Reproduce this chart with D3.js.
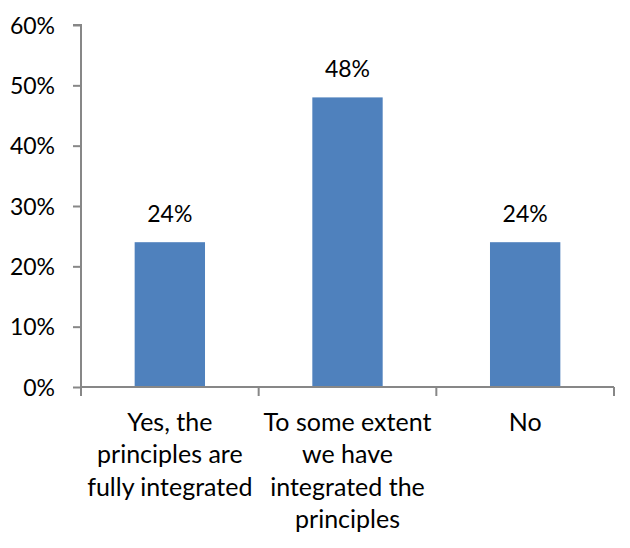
<!DOCTYPE html>
<html>
<head>
<meta charset="utf-8">
<script src="https://cdn.jsdelivr.net/npm/d3@7"></script>
<style>
  html, body { margin: 0; padding: 0; background: #fff; }
  svg { display: block; }
  text { font-family: Lato, "Open Sans", sans-serif; fill: #000; }
</style>
</head>
<body>
<script>
// Survey answers and the share of respondents for each
const categories = [
  ["Yes, the", "principles are", "fully integrated"],
  ["To some extent", "we have", "integrated the", "principles"],
  ["No"]
];
const values = [0.24, 0.48, 0.24];
const yTicks = [0, 0.1, 0.2, 0.3, 0.4, 0.5, 0.6];

const W = 630, H = 548;
const plot = { left: 81, right: 614, top: 25, bottom: 387 };

const svg = d3.select("body").append("svg")
  .attr("width", W).attr("height", H);

const x = d3.scaleBand()
  .domain(d3.range(values.length))
  .range([plot.left, plot.right])
  .paddingInner(0.604)
  .paddingOuter(0.302);

const y = d3.scaleLinear().domain([0, 0.6]).range([plot.bottom, plot.top]);

const axisColor = "#878787";
const fmt = d3.format(".0%");

// Bars
svg.append("g").selectAll("rect")
  .data(values)
  .join("rect")
  .attr("x", (d, i) => x(i))
  .attr("width", x.bandwidth())
  .attr("y", d => y(d))
  .attr("height", d => y(0) - y(d))
  .attr("fill", "#4F81BD");

// Value labels above the bars
svg.append("g").selectAll("text")
  .data(values)
  .join("text")
  .attr("x", (d, i) => x(i) + x.bandwidth() / 2)
  .attr("y", d => y(d) - 20)
  .attr("text-anchor", "middle")
  .style("font-size", "23px")
  .text(d => fmt(d));

// Y axis
const yAxis = svg.append("g")
  .attr("transform", `translate(${plot.left},0)`)
  .call(d3.axisLeft(y).tickValues(yTicks).tickFormat(fmt).tickSize(8).tickPadding(18));
yAxis.select(".domain").attr("stroke", axisColor).attr("stroke-width", 2)
  .attr("d", `M-8,${plot.top}H0V${plot.bottom + 9}`);
yAxis.selectAll(".tick line").attr("stroke", axisColor).attr("stroke-width", 2);
yAxis.selectAll(".tick text")
  .style("font-size", "23px")
  .style("font-family", "Lato, sans-serif")
  .attr("fill", "#000")
  .attr("dy", "0.36em");

// X axis: baseline with category separators
const step = x.step();
const sepX = d3.range(values.length + 1).map(i => plot.left + i * step);
const xAxis = svg.append("g");
xAxis.append("line")
  .attr("x1", plot.left).attr("x2", plot.right)
  .attr("y1", plot.bottom).attr("y2", plot.bottom)
  .attr("stroke", axisColor).attr("stroke-width", 2);
xAxis.selectAll(".sep")
  .data(sepX.slice(1))
  .join("line")
  .attr("class", "sep")
  .attr("x1", d => d).attr("x2", d => d)
  .attr("y1", plot.bottom).attr("y2", plot.bottom + 9)
  .attr("stroke", axisColor).attr("stroke-width", 2);

// Category labels, wrapped over several lines
const lab = svg.append("g").selectAll("text")
  .data(categories)
  .join("text")
  .attr("text-anchor", "middle")
  .style("font-size", "25px");
lab.each(function (lines, i) {
  const t = d3.select(this);
  const cx = x(i) + x.bandwidth() / 2;
  lines.forEach((ln, k) => {
    t.append("tspan")
      .attr("x", cx)
      .attr("y", 430.5 + k * 32.5)
      .text(ln);
  });
});
</script>
</body>
</html>
